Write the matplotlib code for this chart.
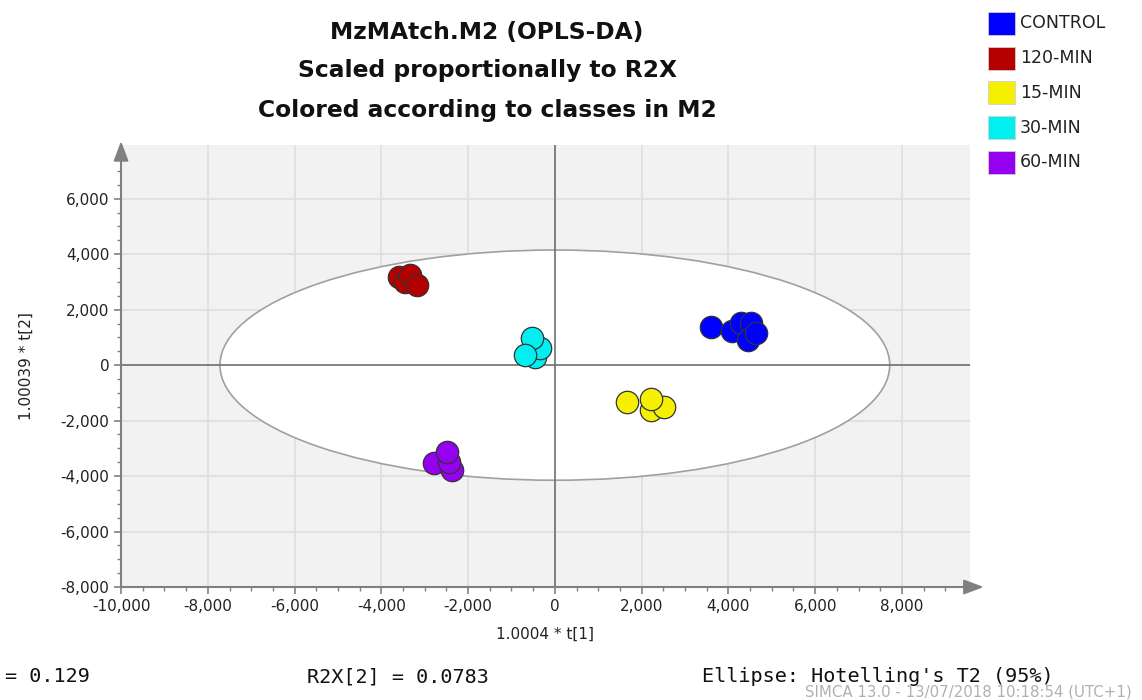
import matplotlib
matplotlib.use("Agg")
import matplotlib.pyplot as plt
from matplotlib.patches import Ellipse
from matplotlib.ticker import MultipleLocator, FuncFormatter

classes = ["CONTROL", "120-MIN", "15-MIN", "30-MIN", "60-MIN"]
colors = ["#0000ff", "#b40000", "#f5f000", "#00f0f0", "#9600f0"]

control_t1 = [3600, 4080, 4290, 4520, 4450, 4630]
control_t2 = [1370, 1230, 1520, 1520, 900, 1155]
min120_t1 = [-3600, -3460, -3350, -3170]
min120_t2 = [3180, 3000, 3250, 2890]
min15_t1 = [1670, 2220, 2520, 2220]
min15_t2 = [-1340, -1620, -1510, -1230]
min30_t1 = [-460, -340, -530, -690]
min30_t2 = [290, 610, 970, 360]
min60_t1 = [-2780, -2360, -2430, -2480]
min60_t2 = [-3540, -3790, -3500, -3140]

series_t1 = [control_t1, min120_t1, min15_t1, min30_t1, min60_t1]
series_t2 = [control_t2, min120_t2, min15_t2, min30_t2, min60_t2]

ellipse_a = 7720
ellipse_b = 4150

xlim = (-10000, 9560)
ylim = (-8000, 7940)

fig = plt.figure(figsize=(11.42, 7.0), dpi=100)
ax = fig.add_axes([0.106, 0.1614, 0.743, 0.6316])
ax.set_facecolor("#f2f2f2")
ax.set_xlim(*xlim)
ax.set_ylim(*ylim)

ax.xaxis.set_major_locator(MultipleLocator(2000))
ax.yaxis.set_major_locator(MultipleLocator(2000))
ax.xaxis.set_minor_locator(MultipleLocator(500))
ax.yaxis.set_minor_locator(MultipleLocator(500))
fmt = FuncFormatter(lambda v, p: f"{int(round(v)):,}")
ax.xaxis.set_major_formatter(fmt)
ax.yaxis.set_major_formatter(fmt)
ax.grid(True, which="major", color="#dedede", linewidth=1.2, zorder=0)
ax.set_axisbelow(True)
for s in ["top", "right"]:
    ax.spines[s].set_visible(False)
for s in ["left", "bottom"]:
    ax.spines[s].set_color("#808080")
    ax.spines[s].set_linewidth(1.5)
ax.tick_params(which="major", length=5, color="#808080", width=1.2, labelsize=11, labelcolor="#222222")
ax.tick_params(which="minor", length=3, color="#808080", width=1)

ell = Ellipse((0, 0), 2 * ellipse_a, 2 * ellipse_b, facecolor="white", edgecolor="#a0a0a0", linewidth=1.2, zorder=1.5)
ax.add_patch(ell)
ax.axhline(0, color="#707070", linewidth=1.2, zorder=1.6)
ax.axvline(0, color="#707070", linewidth=1.2, zorder=1.6)

for t1, t2, c in zip(series_t1, series_t2, colors):
    ax.scatter(t1, t2, s=260, c=c, edgecolors="#333333", linewidths=0.9, zorder=3)

# axis arrows
ax.annotate("", xy=(1.02, 0), xycoords="axes fraction", xytext=(0.99, 0),
            arrowprops=dict(arrowstyle="-|>,head_length=1.2,head_width=0.45", color="#808080", lw=1.5),
            annotation_clip=False)
ax.annotate("", xy=(0, 1.015), xycoords="axes fraction", xytext=(0, 0.98),
            arrowprops=dict(arrowstyle="-|>,head_length=1.2,head_width=0.45", color="#808080", lw=1.5),
            annotation_clip=False)

ax.set_xlabel("1.0004 * t[1]", fontsize=11, color="#222222", labelpad=9)
ax.set_ylabel("1.00039 * t[2]", fontsize=11, color="#222222", labelpad=19)

title_lines = ["MzMAtch.M2 (OPLS-DA)", "Scaled proportionally to R2X", "Colored according to classes in M2"]
for i, line in enumerate(title_lines):
    fig.text(487 / 1142, 1 - (32 + 39 * i) / 700, line, ha="center", va="center",
             fontsize=16.8, fontweight="bold", color="#111111")

# legend
for i, (name, c) in enumerate(zip(classes, colors)):
    yc = 1 - (23.5 + 34.7 * i) / 700
    fig.patches.append(plt.Rectangle((988 / 1142, yc - 11.5 / 700), 27 / 1142, 23 / 700,
                                     transform=fig.transFigure, facecolor=c, edgecolor="#d0d0d0", linewidth=0.6))
    fig.text(1020 / 1142, yc, name, ha="left", va="center", fontsize=12.5, color="#222222")

mono = "DejaVu Sans Mono"
fig.text(5 / 1142, 1 - 677 / 700, "= 0.129", ha="left", va="center", fontsize=14.5, family=mono, color="#111111")
fig.text(307 / 1142, 1 - 677 / 700, "R2X[2] = 0.0783", ha="left", va="center", fontsize=14.5, family=mono, color="#111111")
fig.text(702 / 1142, 1 - 677 / 700, "Ellipse: Hotelling's T2 (95%)", ha="left", va="center", fontsize=14.5, family=mono, color="#111111")
fig.text(805 / 1142, 1 - 692 / 700, "SIMCA 13.0 - 13/07/2018 10:18:54 (UTC+1)", ha="left", va="center", fontsize=10.8, color="#b0b0b0")

fig.savefig("out.png", dpi=100)
